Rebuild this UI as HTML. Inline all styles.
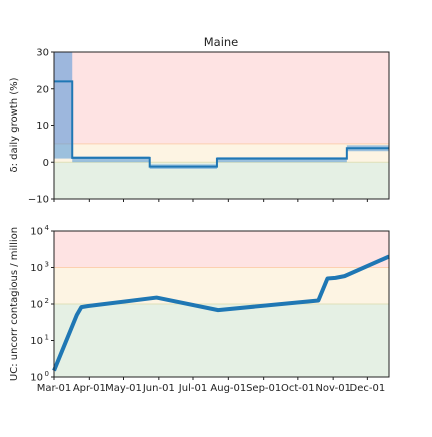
<!DOCTYPE html>
<html><head><meta charset="utf-8"><style>
body{margin:0;background:#fff;font-family:"Liberation Sans","DejaVu Sans",sans-serif}
svg text{font-family:"DejaVu Sans","Liberation Sans",sans-serif;fill:#222}
</style></head><body>
<svg id="c" width="432" height="432" xmlns="http://www.w3.org/2000/svg"></svg>
<script>
const stepStarts=[0,16,84,143,257];
const stepVals=[22,1.2,-1.2,1.0,3.8];
const bandLo=[1,0,-1.8,0,3];
const bandHi=[30,1.6,-0.6,1.4,4.6];
const ucDays=[0,20,24,30,90,144,232,236,240,247,255,294];
const ucVals=[1.5,50,82,88,150,68,125,250,500,520,580,2000];
const monthLabels=["Mar-01","Apr-01","May-01","Jun-01","Jul-01","Aug-01","Sep-01","Oct-01","Nov-01","Dec-01"];
const monthDays=[0,31,61,92,122,153,184,214,245,275];
const yTicks1=[-10,0,10,20,30];
const yTicks2=[0,1,2,3,4];
const endDay=294;
const NS="http://www.w3.org/2000/svg",svg=document.getElementById('c');
const X0=54,X1=389;
const x=d=>X0+(d-0)*(X1-X0)/endDay;
const y1=v=>199-(v+10)*(147/40);
const y2=v=>377-Math.log10(v)*(146/4);
function el(t,a,p){const e=document.createElementNS(NS,t);for(const k in a)e.setAttribute(k,a[k]);if(t==='text'&&!a['font-size'])e.setAttribute('font-size','10');(p||svg).appendChild(e);return e;}
function rect(x0,yA,x1,yB,fill,name){const r=el('rect',{x:x0,y:Math.min(yA,yB),width:x1-x0,height:Math.abs(yB-yA),fill});

return r;}
rect(X0,y1(30),X1,y1(5),'#fee3e3','zone-red-top');
rect(X0,y1(5),X1,y1(0),'#fdf4e3','zone-yellow-top');
rect(X0,y1(0),X1,y1(-10),'#e5f0e4','zone-green-top');
el('line',{x1:X0,x2:X1,y1:y1(5),y2:y1(5),stroke:'#fcd0b0','stroke-width':1});
el('line',{x1:X0,x2:X1,y1:y1(0),y2:y1(0),stroke:'#e0e0b8','stroke-width':1});
for(let i=0;i<stepStarts.length;i++){
 const s=stepStarts[i],e=i+1<stepStarts.length?stepStarts[i+1]:endDay;
 rect(x(s),y1(bandHi[i]),x(e),y1(bandLo[i]),'rgba(60,140,215,0.5)','ci-band');
}
let d='';
for(let i=0;i<stepStarts.length;i++){
 const s=stepStarts[i],e=i+1<stepStarts.length?stepStarts[i+1]:endDay;
 d+=(i?'L':'M')+x(s)+','+y1(stepVals[i])+'L'+x(e)+','+y1(stepVals[i]);
}
const p1=el('path',{d,fill:'none',stroke:'#1f77b4','stroke-width':2});


el('rect',{x:X0,y:52,width:X1-X0,height:147,fill:'none',stroke:'#222','stroke-width':1});
yTicks1.forEach(v=>{el('line',{x1:X0-3,x2:X0,y1:y1(v),y2:y1(v),stroke:'#222'});
 const t=el('text',{x:X0-5,y:y1(v)+3.5,'text-anchor':'end'});t.textContent=v<0?'\u2212'+(-v):v;});
monthDays.forEach(m=>el('line',{x1:x(m),x2:x(m),y1:199,y2:202,stroke:'#222'}));
let t=el('text',{x:221,y:46,'text-anchor':'middle','font-size':'11.5'});t.textContent='Maine';
t=el('text',{x:17,y:125,'text-anchor':'middle',transform:'rotate(-90 17 125)'});t.textContent='δ: daily growth (%)';

rect(X0,y2(1e4),X1,y2(1e3),'#fee3e3','zone-red-bottom');
rect(X0,y2(1e3),X1,y2(100),'#fdf4e3','zone-yellow-bottom');
rect(X0,y2(100),X1,y2(1),'#e5f0e4','zone-green-bottom');
el('line',{x1:X0,x2:X1,y1:y2(1e3),y2:y2(1e3),stroke:'#fcd0b0'});
el('line',{x1:X0,x2:X1,y1:y2(100),y2:y2(100),stroke:'#e0e0b8'});
const p2=el('polyline',{points:ucDays.map((dd,i)=>x(dd)+','+y2(ucVals[i])).join(' '),fill:'none',stroke:'#1f77b4','stroke-width':4,'stroke-linejoin':'round'});


el('rect',{x:X0,y:231,width:X1-X0,height:146,fill:'none',stroke:'#222'});
yTicks2.forEach(e=>{el('line',{x1:X0-3,x2:X0,y1:y2(10**e),y2:y2(10**e),stroke:'#222'});
 const tt=el('text',{x:X0-11,y:y2(10**e)+3.5,'text-anchor':'end'});tt.textContent='10';
 const s=el('text',{x:X0-5,y:y2(10**e)-1,'text-anchor':'end','font-size':'7'});s.textContent=e;});
monthDays.forEach((m,i)=>{el('line',{x1:x(m),x2:x(m),y1:377,y2:380,stroke:'#222'});
 const tt=el('text',{x:x(m),y:391,'text-anchor':'middle'});tt.textContent=monthLabels[i];
 
 });
t=el('text',{x:17,y:304,'text-anchor':'middle',transform:'rotate(-90 17 304)'});t.textContent='UC: uncorr contagious / million';

</script>
</body></html>
